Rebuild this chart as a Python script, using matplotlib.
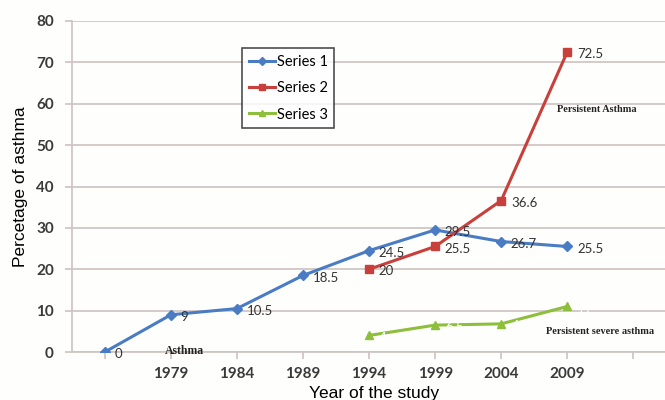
import matplotlib
matplotlib.use("Agg")
import matplotlib.pyplot as plt

categories = ["", "1979", "1984", "1989", "1994", "1999", "2004", "2009", ""]
series1 = [0, 9, 10.5, 18.5, 24.5, 29.5, 26.7, 25.5]
series2_start = 4
series2 = [20, 25.5, 36.6, 72.5]
series3_start = 4
series3 = [4, 6.5, 6.8, 11]

blue = "#4A7CC4"
red = "#C8403C"
green = "#8DBE3C"
grid_c = "#CDC3C0"
label_font = "Lato"

fig = plt.figure(figsize=(6.65, 4.0), dpi=100)
fig.patch.set_facecolor("#FEFEFC")
ax = fig.add_axes([0.108, 0.12, 0.892, 0.8275])
ax.set_facecolor("#FEFEFC")

x1 = list(range(len(series1)))
x2 = list(range(series2_start, series2_start + len(series2)))
x3 = list(range(series3_start, series3_start + len(series3)))

ax.plot(x1, series1, color=blue, lw=2.2, marker="D", ms=5, label="Series 1", zorder=3)
ax.plot(x2, series2, color=red, lw=2.2, marker="s", ms=6, label="Series 2", zorder=3)
ax.plot(x3, series3, color=green, lw=2.2, marker="^", ms=6, label="Series 3", zorder=3)

for x, v in zip(x1, series1):
    ax.annotate(f"{v:g}", (x, v), xytext=(7, -1.5), textcoords="offset points",
                va="center", ha="left", fontsize=9.5, color="#333333", family=label_font)
for x, v in zip(x2, series2):
    ax.annotate(f"{v:g}", (x, v), xytext=(7, -1.5), textcoords="offset points",
                va="center", ha="left", fontsize=9.5, color="#333333", family=label_font)
for x, v in zip(x3, series3):
    ax.annotate(f"{v:g}", (x, v), xytext=(7, -1.5), textcoords="offset points",
                va="center", ha="left", fontsize=9.5, color="white", family=label_font)

ax.text(1.2, 0.2, "Asthma", fontsize=8.5, fontweight="bold", family="Liberation Serif",
        ha="center", va="center", color="#222222")
ax.text(7.45, 58.7, "Persistent Asthma", fontsize=7.4, fontweight="bold",
        family="Liberation Serif", ha="center", va="center", color="#222222")
ax.text(7.5, 5.0, "Persistent severe asthma", fontsize=7.4, fontweight="bold",
        family="Liberation Serif", ha="center", va="center", color="#222222")

ax.set_xlim(-0.5, 8.48)
ax.set_ylim(0, 80)
ax.set_yticks(range(0, 81, 10))
ax.set_xticks(range(len(categories)))
ax.set_xticklabels(categories)
ax.yaxis.grid(True, color=grid_c, lw=1.2)
ax.set_axisbelow(True)

for side in ("top", "right"):
    ax.spines[side].set_visible(False)
ax.spines["left"].set_color(grid_c)
ax.spines["bottom"].set_color(grid_c)
ax.spines["left"].set_linewidth(1.2)
ax.spines["bottom"].set_linewidth(1.2)
ax.tick_params(axis="both", colors=grid_c, length=5, width=1.2,
               labelcolor="#3a3a3a", labelsize=11)
ax.tick_params(axis="y", pad=8)
ax.tick_params(axis="x", pad=6)
for lab in ax.get_xticklabels() + ax.get_yticklabels():
    lab.set_family(label_font)
    lab.set_fontweight("bold")

ax.set_ylabel("Percetage of asthma", fontsize=12.5, family="Liberation Sans", labelpad=6)
ax.set_xlabel("Year of the study", fontsize=12.5, family="Liberation Sans", labelpad=2)
ax.xaxis.set_label_coords(0.51, -0.102)

leg = ax.legend(loc="upper left", bbox_to_anchor=(0.275, 0.94), frameon=True,
                fancybox=False, edgecolor="#222222", handlelength=1.8,
                handletextpad=0.1, borderpad=0.45, labelspacing=0.85, markerscale=0.8,
                prop={"family": label_font, "size": 10.5})
leg.get_frame().set_linewidth(1.2)

fig.savefig("out.png", dpi=100, facecolor=fig.get_facecolor())
